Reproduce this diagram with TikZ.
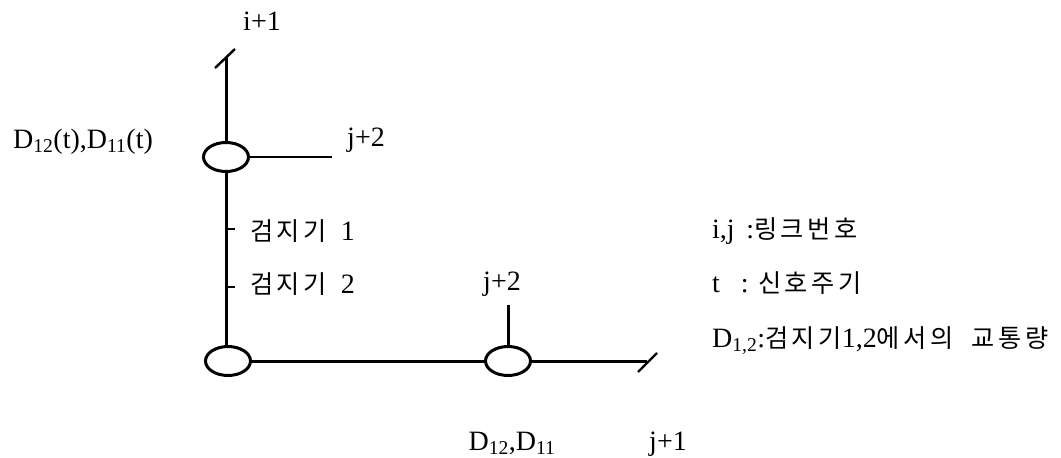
\documentclass[tikz,border=0pt]{standalone}
\usepackage{fontspec}
\setmainfont{Liberation Serif}
\newfontfamily\kr[Scale=0.9, LetterSpace=14]{Noto Sans CJK KR}
\usetikzlibrary{shapes.geometric, positioning, calc}

\begin{document}
\begin{tikzpicture}[
        x=1pt, y=-1pt,
        font=\fontsize{28}{32}\selectfont,
        junction/.style={ellipse, draw=black, line width=3pt, minimum width=45pt, minimum height=29pt, inner sep=0pt},
        road/.style={line width=3pt},
        thin_road/.style={line width=2.4pt},
        label_style/.style={inner sep=0pt, anchor=base}
    ]
        \useasboundingbox (0,0) rectangle (1061,458);

        % 교차로 (타원)
        \node[junction] (J1) at (226,157) {};
        \node[junction] (J2) at (228,361) {};
        \node[junction] (J3) at (508,361) {};

        % 링크 끝점
        \coordinate (top) at (226,58);
        \coordinate (east1) at (332,157);
        \coordinate (stub) at (508,305);
        \coordinate (east2) at (647,361);
        \coordinate (det1) at (226,229);
        \coordinate (det2) at (226,287);

        % 링크
        \draw[road] (J1) -- (top);
        \draw[thin_road] (J1.east) -- (east1);
        \draw[road] (J1.south) -- (J1.south |- J2.north);
        \draw[road] (J2.east) -- (J3.west);
        \draw[road] (J3.north) -- (stub);
        \draw[road] (J3.east) -- (east2);

        % 끝 표시 (사선)
        \draw[thin_road] ($(top)+(-11,10)$) -- ($(top)+(9,-9)$);
        \draw[thin_road] ($(east2)+(-9,11)$) -- ($(east2)+(10,-8)$);

        % 검지기
        \foreach \d in {det1, det2}
            \draw[thin_road] (\d) -- ++(9,0);

        % 라벨
        \node[label_style] (l-i1) at (262,30) {i+1};
        \node[label_style] (l-D1) at (83,148) {D\textsubscript{12}(t),D\textsubscript{11}(t)};
        \node[label_style] (l-j2a) at (366,146) {j+2};
        \node[label_style, anchor=base west] (l-det1) at (250,240) {{\kr 검지기} \ 1};
        \node[label_style, anchor=base west] (l-det2) at (250,293) {{\kr 검지기} \ 2};
        \node[label_style] (l-j2b) at (502,290) {j+2};
        \node[label_style] (l-D2) at (512,450) {D\textsubscript{12},D\textsubscript{11}};
        \node[label_style] (l-j1) at (668,450) {j+1};

        % 범례
        \node[label_style, anchor=base west] (leg1) at (712,238) {i,j \,:{\kr 링크번호}};
        \node[label_style, anchor=base west] (leg2) at (712,292) {t \ \ : {\kr 신호주기}};
        \node[label_style, anchor=base west] (leg3) at (712,347) {D\textsubscript{1,2}:{\kr 검지기}1,2{\kr 에서의 \ 교통량}};

    \end{tikzpicture}
\end{document}
